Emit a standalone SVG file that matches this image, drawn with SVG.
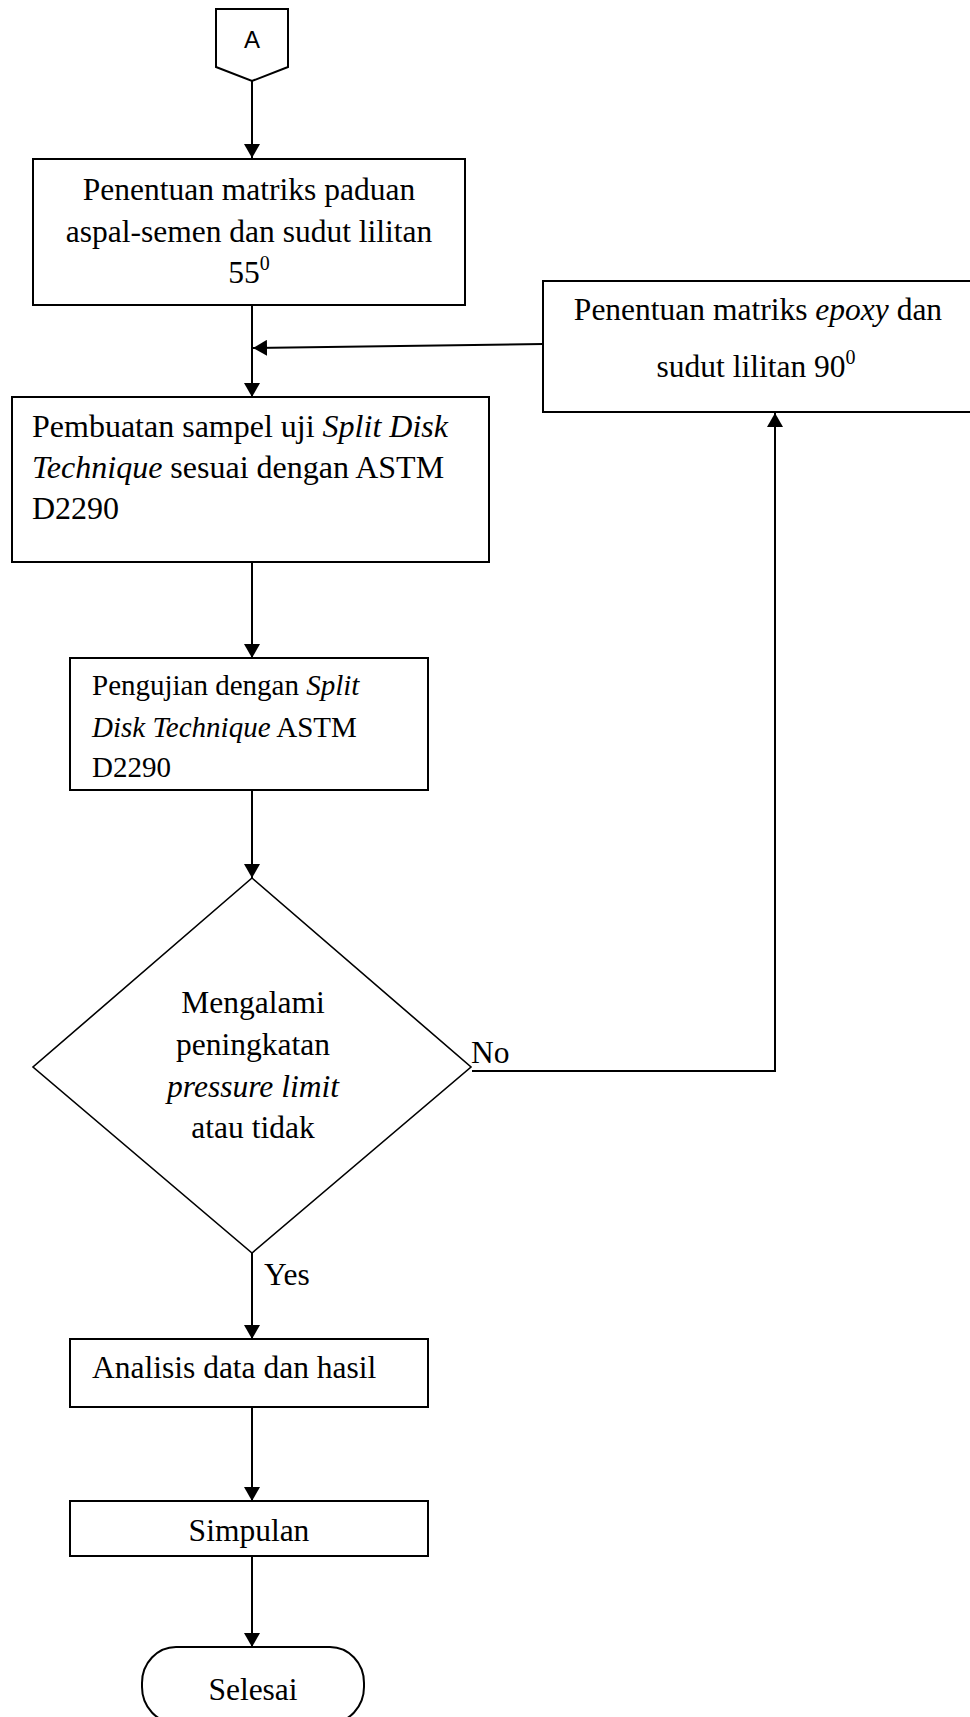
<svg xmlns="http://www.w3.org/2000/svg" width="970" height="1717" viewBox="0 0 970 1717">
<style>
.box{fill:#fff;stroke:#000;stroke-width:2}
.dia{fill:#fff;stroke:#000;stroke-width:1.6}
.con{fill:none;stroke:#000;stroke-width:2}
.t{font-family:"Liberation Serif","Times New Roman",serif;font-size:31.5px;fill:#000}
.tb{font-size:32px}
.ts{font-family:"Liberation Serif","Times New Roman",serif;font-size:29px;fill:#000}
.i{font-style:italic}
.sup{font-size:20px}
.sans{font-family:"Liberation Sans",Arial,sans-serif;font-size:24px;fill:#000}
</style>
<defs>
<marker id="arr" markerUnits="userSpaceOnUse" markerWidth="16" markerHeight="16" refX="14" refY="8" orient="auto">
<path d="M0,0 L14,8 L0,16 z" fill="#000"/>
</marker>
</defs>
<rect width="970" height="1717" fill="#fff"/>
<g id="connectors">
<line class="con" x1="252" y1="81" x2="252" y2="158" marker-end="url(#arr)"/>
<line class="con" x1="252" y1="305" x2="252" y2="397" marker-end="url(#arr)"/>
<line class="con" x1="543" y1="344" x2="253" y2="348" marker-end="url(#arr)"/>
<line class="con" x1="252" y1="562" x2="252" y2="658" marker-end="url(#arr)"/>
<line class="con" x1="252" y1="790" x2="252" y2="878" marker-end="url(#arr)"/>
<line class="con" x1="252" y1="1253" x2="252" y2="1339" marker-end="url(#arr)"/>
<line class="con" x1="252" y1="1407" x2="252" y2="1501" marker-end="url(#arr)"/>
<line class="con" x1="252" y1="1556" x2="252" y2="1647" marker-end="url(#arr)"/>
<polyline class="con" points="472,1071 775,1071 775,413" marker-end="url(#arr)"/>
<text class="t" x="471" y="1063">No</text>
<text class="t" x="264" y="1285">Yes</text>
</g>
<g id="start">
<path class="box" d="M216,9 L288,9 L288,67 L252,81 L216,67 z"/>
<text class="sans" x="252" y="48" text-anchor="middle">A</text>
</g>
<g id="step1">
<rect class="box" x="33" y="159" width="432" height="146"/>
<text class="t" x="249" y="200" text-anchor="middle">Penentuan matriks paduan</text>
<text class="t" x="249" y="242" text-anchor="middle">aspal-semen dan sudut lilitan</text>
<text class="t" x="249" y="283" text-anchor="middle">55<tspan class="sup" dy="-13">0</tspan></text>
</g>
<g id="epoxy">
<rect class="box" x="543" y="281" width="432" height="131"/>
<text class="t" x="758" y="320" text-anchor="middle">Penentuan matriks <tspan class="i">epoxy</tspan> dan</text>
<text class="t" x="756" y="377" text-anchor="middle">sudut lilitan 90<tspan class="sup" dy="-13">0</tspan></text>
</g>
<g id="step2">
<rect class="box" x="12" y="397" width="477" height="165"/>
<text class="t tb" x="32" y="437">Pembuatan sampel uji <tspan class="i">Split Disk</tspan></text>
<text class="t tb" x="32" y="478"><tspan class="i">Technique</tspan> sesuai dengan ASTM</text>
<text class="t tb" x="32" y="519">D2290</text>
</g>
<g id="step3">
<rect class="box" x="70" y="658" width="358" height="132"/>
<text class="ts" x="92" y="695">Pengujian dengan <tspan class="i">Split</tspan></text>
<text class="ts" x="92" y="737"><tspan class="i">Disk Technique</tspan> ASTM</text>
<text class="ts" x="92" y="777">D2290</text>
</g>
<g id="decision">
<path class="dia" d="M252,878 L471,1067 L252,1253 L33,1067 z"/>
<text class="t" x="253" y="1013" text-anchor="middle">Mengalami</text>
<text class="t" x="253" y="1055" text-anchor="middle">peningkatan</text>
<text class="t i" x="253" y="1097" text-anchor="middle">pressure limit</text>
<text class="t" x="253" y="1138" text-anchor="middle">atau tidak</text>
</g>
<g id="analysis">
<rect class="box" x="70" y="1339" width="358" height="68"/>
<text class="t" x="92" y="1378">Analisis data dan hasil</text>
</g>
<g id="conclusion">
<rect class="box" x="70" y="1501" width="358" height="55"/>
<text class="t" x="249" y="1541" text-anchor="middle">Simpulan</text>
</g>
<g id="end">
<rect class="box" x="142" y="1647" width="222" height="76" rx="34" ry="36"/>
<text class="t" x="253" y="1700" text-anchor="middle">Selesai</text>
</g>
</svg>
